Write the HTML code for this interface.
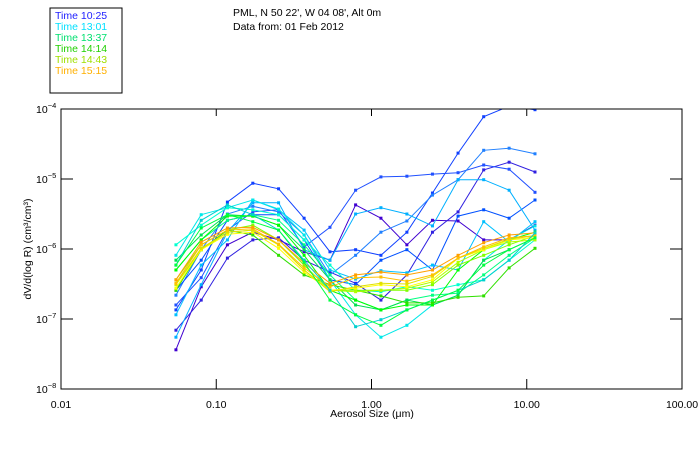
<!DOCTYPE html>
<html><head><meta charset="utf-8"><style>
html,body{margin:0;padding:0;background:#fff;width:700px;height:450px;overflow:hidden}
svg{display:block;font-family:"Liberation Sans",sans-serif}
</style></head><body>
<svg id="chart" width="700" height="450">
  <rect x="50" y="8" width="72" height="85" fill="#fff" stroke="#000" stroke-width="1"/>
  <g font-size="10.5">
    <text x="55" y="19" fill="#2020ff">Time 10:25</text>
    <text x="55" y="30" fill="#00e0ff">Time 13:01</text>
    <text x="55" y="41" fill="#00e070">Time 13:37</text>
    <text x="55" y="52" fill="#20d000">Time 14:14</text>
    <text x="55" y="63" fill="#a0e000">Time 14:43</text>
    <text x="55" y="74" fill="#ffb000">Time 15:15</text>
  </g>
  <text x="233" y="16" font-size="10.5" fill="#000">PML, N 50 22', W 04 08', Alt 0m</text>
  <text x="233" y="30" font-size="10.5" fill="#000">Data from: 01 Feb 2012</text>
  <text transform="translate(31,249) rotate(-90)" text-anchor="middle" font-size="10.5">dV/d(log R) (cm³/cm³)</text>
  <text x="372" y="417" text-anchor="middle" font-size="10.5">Aerosol Size (μm)</text>
  <defs><clipPath id="pc"><rect x="61" y="109" width="621" height="280"/></clipPath></defs>
  <g id="axes"></g>
  <g id="series" clip-path="url(#pc)"></g>
  <rect x="61" y="109" width="621" height="280" fill="none" stroke="#000" stroke-width="1"/>
</svg>
<script>
const sizes = [0.055,0.080,0.118,0.172,0.252,0.368,0.54,0.79,1.15,1.69,2.47,3.61,5.28,7.7,11.3];
const xTickValues = [0.01,0.1,1,10,100];
const xTickLabels = ["0.01","0.10","1.00","10.00","100.00"];
const yTickExponents = [-4,-5,-6,-7,-8];
const seriesColors = ["#4000d0","#3020e0","#1040ff","#2050ff","#2080ff","#0050ff","#00b0ff","#00c0ff","#00e8e8","#00ffd0","#00ff80","#00e050","#00ff00","#30e000","#80ff00","#b0ff00","#ffff00","#e0e000","#ffc000","#ffa000","#00d0d0","#00ff40"];
const log10Values = [
[-7.44,-6.54,-5.94,-5.76,-5.87,-6.04,-6.16,-5.37,-5.56,-5.94,-5.59,-5.60,-5.87,-5.87,-5.66],
[-7.16,-6.73,-6.13,-5.87,-5.84,-6.16,-6.33,-6.49,-6.73,-6.37,-5.76,-5.47,-4.87,-4.76,-4.90],
[-6.87,-6.30,-5.33,-5.06,-5.14,-5.56,-6.04,-6.01,-6.09,-5.76,-5.20,-4.63,-4.11,-3.96,-4.01],
[-6.80,-6.41,-5.73,-5.47,-5.44,-5.97,-5.69,-5.16,-4.97,-4.96,-4.93,-4.91,-4.80,-4.86,-5.19],
[-6.66,-6.01,-5.50,-5.39,-5.47,-5.80,-6.37,-6.09,-5.76,-5.60,-5.23,-5.01,-4.59,-4.56,-4.64],
[-6.59,-6.16,-5.59,-5.51,-5.51,-5.87,-6.44,-6.51,-6.16,-6.01,-6.30,-5.53,-5.44,-5.56,-5.30],
[-7.26,-6.51,-5.76,-5.34,-5.34,-6.01,-6.16,-5.50,-5.41,-5.50,-5.67,-5.01,-5.01,-5.16,-5.73],
[-6.94,-6.23,-5.87,-5.30,-5.44,-5.73,-6.30,-6.43,-6.31,-6.34,-6.23,-6.30,-5.61,-5.90,-5.61],
[-6.09,-5.51,-5.41,-5.30,-5.43,-5.80,-6.44,-6.94,-7.26,-7.09,-6.80,-6.66,-6.16,-5.87,-5.67],
[-5.94,-5.66,-5.41,-5.44,-5.51,-5.87,-6.23,-6.59,-6.61,-6.54,-6.59,-6.51,-6.44,-6.16,-5.87],
[-6.30,-5.87,-5.59,-5.51,-5.59,-5.94,-6.37,-6.73,-6.87,-6.73,-6.66,-6.63,-6.37,-6.09,-5.84],
[-6.16,-5.80,-5.51,-5.53,-5.66,-6.01,-6.44,-6.80,-6.87,-6.73,-6.80,-6.66,-6.16,-6.01,-5.84],
[-6.30,-5.87,-5.53,-5.53,-5.66,-6.09,-6.59,-6.73,-6.87,-6.80,-6.80,-6.30,-6.01,-5.87,-5.76],
[-6.59,-6.01,-5.73,-5.80,-6.09,-6.37,-6.51,-6.59,-6.67,-6.77,-6.77,-6.69,-6.67,-6.27,-5.99],
[-6.44,-5.94,-5.73,-5.66,-5.87,-6.23,-6.59,-6.59,-6.59,-6.59,-6.51,-6.23,-6.09,-5.94,-5.81],
[-6.51,-6.01,-5.76,-5.73,-5.94,-6.30,-6.59,-6.61,-6.59,-6.56,-6.47,-6.19,-6.01,-5.90,-5.87],
[-6.56,-6.01,-5.79,-5.76,-5.99,-6.33,-6.59,-6.56,-6.51,-6.54,-6.44,-6.13,-6.01,-5.87,-5.84],
[-6.50,-5.99,-5.76,-5.73,-5.94,-6.30,-6.61,-6.54,-6.49,-6.50,-6.39,-6.13,-5.99,-5.86,-5.81],
[-6.49,-5.94,-5.73,-5.71,-5.93,-6.27,-6.54,-6.41,-6.40,-6.46,-6.37,-6.13,-5.97,-5.84,-5.81],
[-6.44,-5.90,-5.70,-5.69,-5.87,-6.20,-6.49,-6.37,-6.33,-6.37,-6.30,-6.09,-5.91,-5.80,-5.77],
[-6.23,-5.59,-5.37,-5.51,-5.73,-6.16,-6.59,-7.11,-7.01,-6.87,-6.73,-6.59,-6.44,-6.16,-5.77],
[-6.23,-5.70,-5.51,-5.61,-5.73,-6.19,-6.73,-6.94,-7.09,-6.87,-6.73,-6.59,-6.23,-6.01,-5.84]
];
const NS="http://www.w3.org/2000/svg";
const X0=61,X1=682,Y0=109,Y1=389;
function xs(v){return X0+(Math.log10(v)+2)/4*(X1-X0);}
function ys(v){return Y0+(-4-Math.log10(v))/4*(Y1-Y0);}
function mk(tag,attrs,parent){const e=document.createElementNS(NS,tag);for(const k in attrs)e.setAttribute(k,attrs[k]);parent.appendChild(e);return e;}
const axes=document.getElementById('axes');
xTickValues.forEach((v,i)=>{
  const x=xs(v);
  if(i>0&&i<xTickValues.length-1){
    const t1=mk('line',{x1:x,x2:x,y1:Y1,y2:Y1-10,stroke:'#000'},axes);
    
    
    const t2=mk('line',{x1:x,x2:x,y1:Y0,y2:Y0+7,stroke:'#000'},axes);
    
    
  }
  const lb=mk('text',{x:x,y:408,'text-anchor':'middle','font-size':'10.5'},axes);
  lb.textContent=xTickLabels[i];
  
  
});
yTickExponents.forEach((p,i)=>{
  const y=ys(Math.pow(10,p));
  if(i>0&&i<yTickExponents.length-1){
    const t1=mk('line',{x1:X0,x2:X0+12,y1:y,y2:y,stroke:'#000'},axes);
    
    
    const t2=mk('line',{x1:X1,x2:X1-12,y1:y,y2:y,stroke:'#000'},axes);
    
    
  }
  const lb=mk('text',{x:36,y:y+4,'font-size':'10.5'},axes);
  
  
  lb.textContent='10';
  const sp=mk('tspan',{dy:-5,'font-size':'7.5'},lb);
  sp.textContent='−'+(-p);
});
const sg=document.getElementById('series');
log10Values.forEach((arr,si)=>{
  const col=seriesColors[si];
  const g=mk('g',{},sg);
  
  
  const pts=arr.map((e,i)=>xs(sizes[i]).toFixed(1)+','+ys(Math.pow(10,e)).toFixed(1)).join(' ');
  const pl=mk('polyline',{points:pts,fill:'none',stroke:col,'stroke-width':1},g);
  
  
  arr.forEach((e,i)=>{
    const r=mk('rect',{x:xs(sizes[i])-1.5,y:ys(Math.pow(10,e))-1.5,width:3,height:3,fill:col},g);
    
    
  });
});
</script>
</body></html>
